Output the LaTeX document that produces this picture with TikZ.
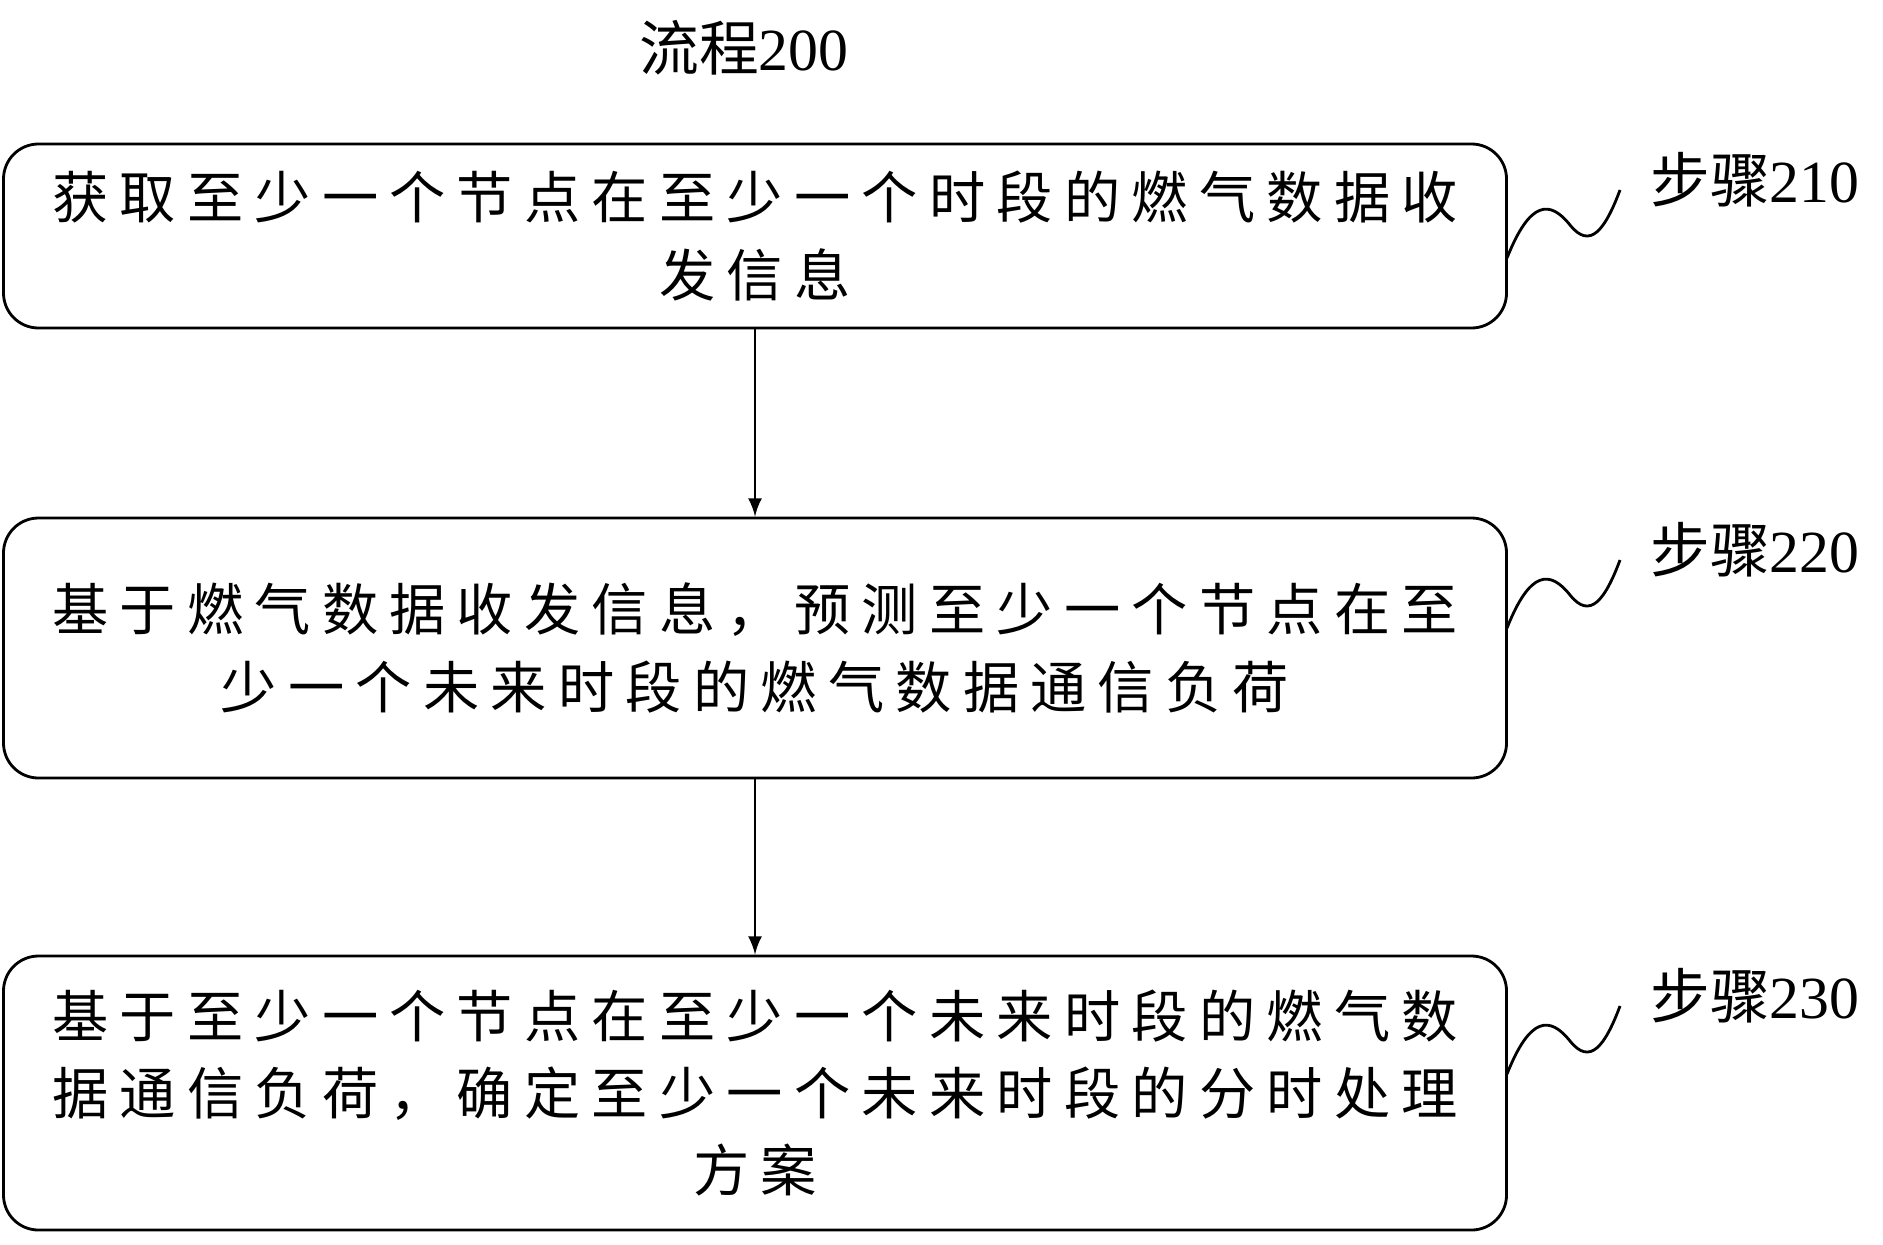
\documentclass[tikz,border=0pt]{standalone}
\usepackage{fontspec}
\setmainfont{Liberation Serif}
\newfontfamily\cjk[LetterSpace=20]{Noto Sans CJK SC}
\newfontfamily\cjklbl{Noto Sans CJK SC}
\usetikzlibrary{positioning}
\tikzset{
  stepbox/.style={draw, thick, rounded corners=0.35cm, minimum width=15.03cm,
    align=center, inner sep=0pt, font=\fontsize{16}{22}\selectfont\cjk},
  steplbl/.style={font=\fontsize{17}{20}\selectfont},
  flow/.style={-latex, thick}
}
\begin{document}
\begin{tikzpicture}
	\useasboundingbox (0,0) rectangle (18.83,-12.44);
	\node[steplbl] (title) at (7.44,-0.48) {{\cjklbl 流程}200};

	\node[stepbox, minimum height=1.84cm] (s210) at (7.55,-2.36)
		{获取至少一个节点在至少一个时段的燃气数据收\\发信息};
	\node[stepbox, minimum height=2.6cm] (s220) at (7.55,-6.48)
		{基于燃气数据收发信息，预测至少一个节点在至\\少一个未来时段的燃气数据通信负荷};
	\node[stepbox, minimum height=2.74cm] (s230) at (7.55,-10.93)
		{基于至少一个节点在至少一个未来时段的燃气数\\据通信负荷，确定至少一个未来时段的分时处理\\方案};

	\draw[flow] (s210) -- (s220);
	\draw[flow] (s220) -- (s230);

	% step labels with wavy leaders
	\foreach \n/\y in {210/-1.8, 220/-5.5, 230/-9.96}{
		\node[steplbl] (l\n) at (17.55,\y) {{\cjklbl 步骤}\n};
		\coordinate (w\n) at (16.2,\y-0.1);
		\draw[thick] (15.07,\y-0.78) .. controls (15.3,\y-0.2) and (15.5,\y-0.2)
			.. (15.7,\y-0.45) .. controls (15.9,\y-0.7) and (16.05,\y-0.5) .. (w\n);
	}
\end{tikzpicture}
\end{document}
